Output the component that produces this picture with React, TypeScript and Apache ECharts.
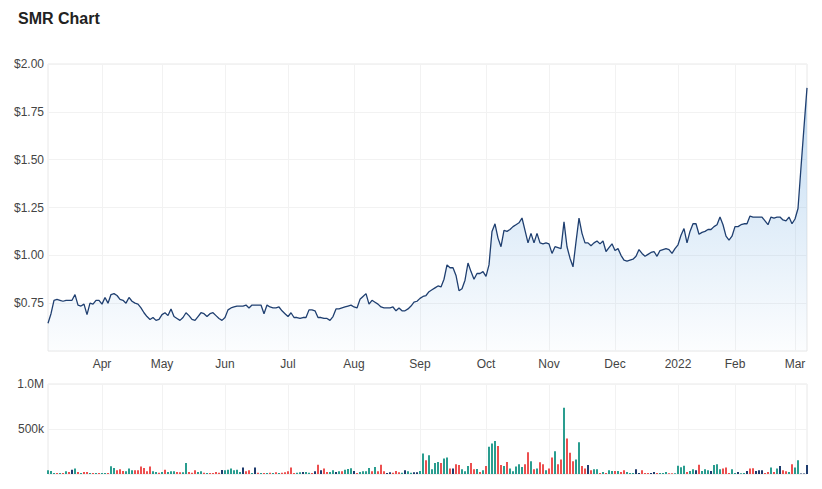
import React, { useEffect, useRef } from 'react';
import * as echarts from 'echarts';

// ASX trading calendar pieces
const START_DATE = '2021-03-08';
const END_DATE = '2022-03-07';
const HOLIDAYS = ['2021-04-02', '2021-04-05', '2021-06-14', '2021-12-27', '2021-12-28', '2022-01-03', '2022-01-26'];
const MONTH_NAMES = ['Jan', 'Feb', 'Mar', 'Apr', 'May', 'Jun', 'Jul', 'Aug', 'Sep', 'Oct', 'Nov', 'Dec'];

// Closing prices ($), one per trading day
const prices = [
  0.645, 0.695, 0.765, 0.770, 0.765, 0.760, 0.765, 0.765, 0.765, 0.795,
  0.740, 0.735, 0.745, 0.690, 0.750, 0.745, 0.765, 0.765, 0.745, 0.780,
  0.750, 0.795, 0.800, 0.790, 0.770, 0.765, 0.750, 0.780, 0.760, 0.750,
  0.745, 0.725, 0.700, 0.680, 0.665, 0.675, 0.660, 0.665, 0.690, 0.700,
  0.685, 0.720, 0.680, 0.670, 0.660, 0.675, 0.700, 0.685, 0.665, 0.660,
  0.680, 0.700, 0.695, 0.680, 0.695, 0.700, 0.685, 0.670, 0.660, 0.675,
  0.715, 0.725, 0.730, 0.735, 0.735, 0.735, 0.740, 0.725, 0.740, 0.740,
  0.740, 0.740, 0.695, 0.740, 0.730, 0.725, 0.725, 0.730, 0.710, 0.695,
  0.680, 0.700, 0.675, 0.675, 0.670, 0.675, 0.675, 0.715, 0.715, 0.710,
  0.675, 0.675, 0.670, 0.670, 0.660, 0.680, 0.720, 0.720, 0.725, 0.730,
  0.735, 0.740, 0.730, 0.725, 0.770, 0.785, 0.800, 0.745, 0.765, 0.755,
  0.745, 0.730, 0.725, 0.725, 0.725, 0.730, 0.710, 0.725, 0.710, 0.710,
  0.720, 0.735, 0.755, 0.760, 0.775, 0.785, 0.790, 0.810, 0.820, 0.830,
  0.840, 0.835, 0.875, 0.950, 0.935, 0.935, 0.895, 0.815, 0.825, 0.870,
  0.960, 0.915, 0.875, 0.905, 0.905, 0.915, 0.890, 0.950, 1.125, 1.165,
  1.090, 1.045, 1.130, 1.125, 1.135, 1.150, 1.160, 1.170, 1.195, 1.130,
  1.065, 1.115, 1.065, 1.115, 1.065, 1.060, 1.065, 1.060, 1.010, 1.045,
  1.040, 1.035, 1.175, 1.045, 0.985, 0.940, 1.070, 1.195, 1.115, 1.065,
  1.065, 1.050, 1.065, 1.075, 1.060, 1.075, 1.020, 1.040, 1.060, 1.025,
  1.035, 1.000, 0.975, 0.970, 0.975, 0.980, 0.995, 1.030, 1.010, 0.995,
  1.005, 1.015, 1.020, 0.995, 1.025, 1.030, 1.035, 1.030, 1.010, 1.035,
  1.055, 1.105, 1.140, 1.065, 1.125, 1.165, 1.165, 1.110, 1.120, 1.125,
  1.135, 1.135, 1.150, 1.160, 1.200, 1.160, 1.100, 1.080, 1.100, 1.150,
  1.150, 1.160, 1.165, 1.165, 1.205, 1.200, 1.200, 1.200, 1.200, 1.180,
  1.160, 1.200, 1.195, 1.200, 1.200, 1.185, 1.180, 1.200, 1.165, 1.190,
  1.245, 1.460, 1.670, 1.875,
];

// Daily volume (thousands of shares)
const volumesK = [
  41, 34, 12, 10, 12, 10, 30, 22, 48, 60,
  22, 12, 22, 22, 10, 12, 10, 12, 12, 10,
  12, 86, 67, 41, 52, 34, 30, 60, 41, 41,
  41, 82, 67, 30, 82, 30, 22, 15, 22, 48,
  22, 30, 30, 22, 19, 20, 123, 22, 15, 41,
  22, 30, 15, 12, 12, 12, 22, 15, 45, 41,
  48, 60, 41, 48, 22, 71, 30, 41, 12, 71,
  15, 10, 12, 10, 15, 12, 20, 12, 15, 20,
  30, 71, 12, 15, 20, 22, 22, 15, 12, 30,
  104, 41, 60, 22, 22, 41, 22, 30, 30, 48,
  56, 63, 34, 12, 22, 30, 30, 67, 30, 78,
  30, 104, 30, 12, 19, 15, 34, 19, 15, 41,
  30, 15, 19, 19, 34, 228, 153, 209, 52, 123,
  134, 123, 172, 183, 60, 60, 108, 100, 52, 30,
  90, 123, 52, 56, 22, 41, 90, 302, 340, 366,
  310, 100, 90, 134, 60, 30, 82, 108, 78, 108,
  242, 142, 52, 60, 130, 108, 41, 60, 183, 254,
  108, 160, 735, 395, 235, 142, 160, 354, 90, 60,
  100, 41, 52, 52, 12, 22, 12, 41, 34, 34,
  34, 22, 41, 22, 12, 12, 52, 12, 41, 12,
  12, 12, 22, 12, 12, 12, 22, 8, 8, 8,
  93, 75, 93, 22, 34, 52, 41, 104, 34, 52,
  41, 34, 100, 108, 52, 60, 71, 12, 52, 12,
  22, 8, 12, 34, 60, 63, 34, 41, 41, 12,
  22, 71, 22, 60, 90, 41, 30, 22, 108, 71,
  153, 5, 5, 100,
];

// Volume bar direction: u = up, d = down, n = neutral
const directionList = [
  'u','u','u','d','u','d','u','d','n','u',
  'd','u','d','d','u','d','u','d','u','u',
  'd','u','u','d','d','d','u','u','u','d',
  'd','d','d','d','d','u','u','d','u','d',
  'u','u','u','d','d','u','u','d','d','d',
  'u','u','d','u','d','d','d','d','n','u',
  'u','u','u','u','u','n','d','d','u','n',
  'd','u','d','u','d','u','d','u','d','d',
  'd','d','d','u','u','n','u','u','d','n',
  'd','n','d','d','u','u','n','u','d','u',
  'u','u','n','d','u','u','u','u','d','u',
  'd','d','d','n','n','d','d','d','u','n',
  'u','u','n','n','u','u','d','u','u','u',
  'u','d','u','u','d','n','d','d','u','u',
  'u','d','d','u','d','u','d','u','u','u',
  'd','d','u','d','u','u','u','u','u','d',
  'd','u','d','u','d','d','u','d','d','u',
  'd','d','u','d','d','d','u','u','d','d',
  'n','d','u','u','d','u','d','u','u','d',
  'u','d','d','u','u','u','n','n','d','d',
  'd','n','n','d','u','u','u','d','d','u',
  'u','u','u','d','u','u','n','d','u','u',
  'u','n','u','u','u','d','d','d','u','u',
  'n','u','u','n','d','d','n','n','n','d',
  'd','u','d','u','n','d','d','u','d','u',
  'u','n','n','n',
];

const DIR_COLORS: Record<string, string> = { u: '#2a9d8f', d: '#ec4f4f', n: '#1f3c6e' };

function tradingDays(start: string, end: string, holidays: string[]): string[] {
  const out: string[] = [];
  const [sy, sm, sd] = start.split('-').map(Number);
  const [ey, em, ed] = end.split('-').map(Number);
  let t = Date.UTC(sy, sm - 1, sd);
  const endT = Date.UTC(ey, em - 1, ed);
  while (t <= endT) {
    const d = new Date(t);
    const wd = d.getUTCDay();
    const iso = d.toISOString().slice(0, 10);
    if (wd !== 0 && wd !== 6 && holidays.indexOf(iso) < 0) out.push(iso);
    t += 86400000;
  }
  return out;
}

const dates = tradingDays(START_DATE, END_DATE, HOLIDAYS);

const monthStart = new Set<number>();
dates.forEach((d, i) => {
  if (i > 0 && d.slice(5, 7) !== dates[i - 1].slice(5, 7)) monthStart.add(i);
});

const FONT = "'Liberation Sans', Arial, Helvetica, sans-serif";

export default function App() {
  const ref = useRef<HTMLDivElement>(null);
  useEffect(() => {
    document.body.style.margin = '0';
    if (!ref.current) return;
    const chart = echarts.init(ref.current, undefined, { renderer: 'svg' });
    const isMonth = (idx: number) => monthStart.has(idx);
    const gridBorder = '#e8e8e8';
    const split = '#f2f2f2';
    const labelColor = '#444';
    chart.setOption({
      animation: false,
      textStyle: { fontFamily: FONT },
      title: {
        text: 'SMR Chart',
        left: 18,
        top: 10,
        padding: 0,
        textStyle: { fontSize: 16, fontWeight: 'bold', color: '#222', fontFamily: FONT },
      },
      grid: [
        { left: 48, right: 15, top: 64, height: 287, show: true, borderColor: gridBorder, borderWidth: 1, backgroundColor: 'transparent' },
        { left: 48, right: 15, top: 384, height: 90, show: true, borderColor: gridBorder, borderWidth: 1, backgroundColor: 'transparent' },
      ],
      xAxis: [
        {
          type: 'category',
          gridIndex: 0,
          data: dates,
          boundaryGap: false,
          axisLine: { show: false },
          axisTick: { show: false },
          axisLabel: {
            interval: (idx: number) => isMonth(idx),
            margin: 7,
            color: labelColor,
            fontSize: 12,
            fontFamily: FONT,
            formatter: (v: string) => {
              const m = Number(v.slice(5, 7)) - 1;
              return m === 0 ? v.slice(0, 4) : MONTH_NAMES[m];
            },
          },
          splitLine: { show: true, interval: (idx: number) => isMonth(idx), lineStyle: { color: split, width: 1 } },
        },
        {
          type: 'category',
          gridIndex: 1,
          data: dates,
          boundaryGap: false,
          axisLine: { show: false },
          axisTick: { show: false },
          axisLabel: { show: false },
          splitLine: { show: true, interval: (idx: number) => isMonth(idx), lineStyle: { color: split, width: 1 } },
        },
      ],
      yAxis: [
        {
          type: 'value',
          gridIndex: 0,
          min: 0.5,
          max: 2,
          interval: 0.25,
          axisLine: { show: false },
          axisTick: { show: false },
          axisLabel: {
            showMinLabel: false,
            margin: 4,
            color: labelColor,
            fontSize: 12,
            fontFamily: FONT,
            formatter: (v: number) => '$' + v.toFixed(2),
          },
          splitLine: { lineStyle: { color: split, width: 1 } },
        },
        {
          type: 'value',
          gridIndex: 1,
          min: 0,
          max: 1000000,
          interval: 500000,
          axisLine: { show: false },
          axisTick: { show: false },
          axisLabel: {
            showMinLabel: false,
            margin: 4,
            color: labelColor,
            fontSize: 12,
            fontFamily: FONT,
            formatter: (v: number) => (v >= 1000000 ? (v / 1000000).toFixed(1) + 'M' : v / 1000 + 'k'),
          },
          splitLine: { lineStyle: { color: split, width: 1 } },
        },
      ],
      series: [
        {
          type: 'line',
          xAxisIndex: 0,
          yAxisIndex: 0,
          data: prices,
          showSymbol: false,
          symbol: 'none',
          lineStyle: { color: '#1f3f70', width: 1.3 },
          areaStyle: {
            color: new echarts.graphic.LinearGradient(0, 0, 0, 1, [
              { offset: 0, color: 'rgba(110,170,225,0.6)' },
              { offset: 1, color: 'rgba(110,170,225,0.03)' },
            ]),
          },
        },
        {
          type: 'bar',
          xAxisIndex: 1,
          yAxisIndex: 1,
          barWidth: 2,
          data: volumesK.map((v, i) => ({
            value: v * 1000,
            itemStyle: { color: DIR_COLORS[directionList[i]] || DIR_COLORS.n },
          })),
        },
      ],
    });
    return () => chart.dispose();
  }, []);
  return <div ref={ref} style={{ width: 822, height: 489 }} />;
}
